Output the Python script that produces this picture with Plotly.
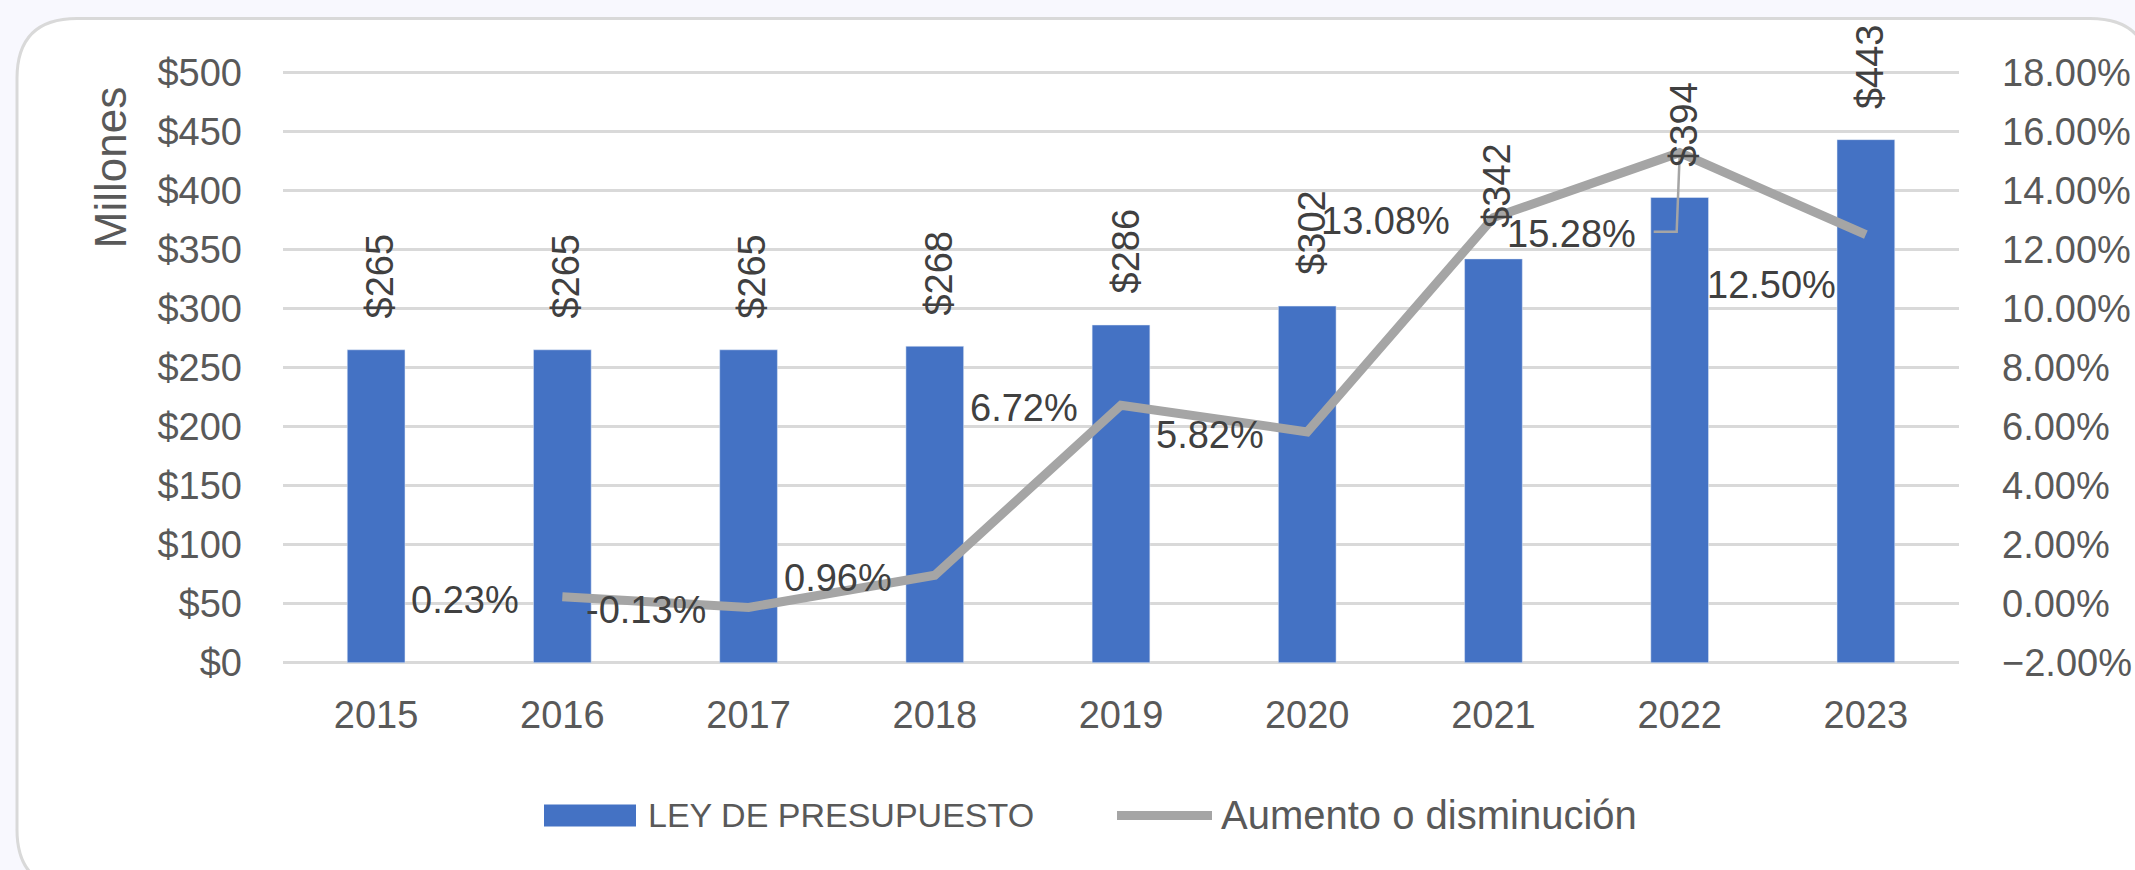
import plotly.graph_objects as go

# ---------------- data ----------------
years = ["2015", "2016", "2017", "2018", "2019", "2020", "2021", "2022", "2023"]
budget = [265, 265, 265, 268, 286, 302, 342, 394, 443]           # millones
change_pct = [None, 0.23, -0.13, 0.96, 6.72, 5.82, 13.08, 15.28, 12.50]  # %
bar_name = "LEY DE PRESUPUESTO"
line_name = "Aumento o disminución"
y_title = "Millones"

# ---------------- layout geometry (pixels) ----------------
W, H = 2135, 870
L, R, T, B = 283, 1959, 72, 663
EXT = 2.0  # small range padding so edge gridlines are drawn
PPU = (B - T) / 500.0
T_m = T - EXT * PPU
B_m = B + EXT * PPU


def px(x):
    return (x - L) / (R - L)


def py(y):
    return (B_m - y) / (B_m - T_m)


FONT = "Liberation Sans, Arial, sans-serif"
TICK_COLOR = "#595959"
LABEL_COLOR = "#404040"
BAR_COLOR = "#4472C4"
LINE_COLOR = "#A5A5A5"
GRID_COLOR = "#D9D9D9"

# label offsets (pixels) for the percentage labels: (xshift, yshift)
pct_offsets = {"2023": (-29, -50), "2022": (-43, -81)}
default_offset = (-42, -3)

fig = go.Figure()
fig.add_trace(go.Bar(
    x=years, y=budget, name=bar_name, marker_color=BAR_COLOR,
    width=0.31, showlegend=False, yaxis="y",
))
fig.add_trace(go.Scatter(
    x=years, y=change_pct, name=line_name, mode="lines",
    line=dict(color=LINE_COLOR, width=9), connectgaps=False,
    showlegend=False, yaxis="y2",
))

annotations = []
# bar value labels (rotated)
for i, v in enumerate(budget):
    annotations.append(dict(
        x=i, y=v, xref="x", yref="y", text=f"${v}", textangle=-90,
        showarrow=False, xanchor="center", yanchor="bottom", yshift=30, xshift=4,
        borderpad=0, font=dict(family=FONT, size=38, color=LABEL_COLOR),
    ))
# percentage labels
for i, p in enumerate(change_pct):
    if p is None:
        continue
    xs, ys = pct_offsets.get(years[i], default_offset)
    annotations.append(dict(
        x=i, y=p, xref="x", yref="y2", text=f"{p:.2f}%",
        showarrow=False, xanchor="right", yanchor="middle", xshift=xs, yshift=ys,
        borderpad=0, font=dict(family=FONT, size=38, color=LABEL_COLOR),
    ))
# y axis title
annotations.append(dict(
    x=px(110), y=py(168), xref="paper", yref="paper", text=y_title, textangle=-90,
    showarrow=False, xanchor="center", yanchor="middle",
    font=dict(family=FONT, size=44, color=TICK_COLOR),
))
# custom legend texts
annotations.append(dict(
    x=px(646), y=py(816), xref="paper", yref="paper", text=bar_name,
    showarrow=False, xanchor="left", yanchor="middle",
    font=dict(family=FONT, size=34, color=TICK_COLOR),
))
annotations.append(dict(
    x=px(1219), y=py(816), xref="paper", yref="paper", text=line_name,
    showarrow=False, xanchor="left", yanchor="middle",
    font=dict(family=FONT, size=40, color=TICK_COLOR),
))

# rounded white card
x0, x1, y0, y1, r = 17, 2150, 18, 890, 60
card = (
    f"M {px(x0 + r)},{py(y0)} L {px(x1 - r)},{py(y0)} "
    f"Q {px(x1)},{py(y0)} {px(x1)},{py(y0 + r)} "
    f"L {px(x1)},{py(y1 - r)} Q {px(x1)},{py(y1)} {px(x1 - r)},{py(y1)} "
    f"L {px(x0 + r)},{py(y1)} Q {px(x0)},{py(y1)} {px(x0)},{py(y1 - r)} "
    f"L {px(x0)},{py(y0 + r)} Q {px(x0)},{py(y0)} {px(x0 + r)},{py(y0)} Z"
)
i22 = years.index("2022")
shapes = [
    dict(type="path", path=card, xref="paper", yref="paper",
         fillcolor="white", line=dict(color=GRID_COLOR, width=3), layer="below"),
    # legend swatches
    dict(type="rect", xref="paper", yref="paper", x0=px(544), x1=px(636),
         y0=py(827), y1=py(805), fillcolor=BAR_COLOR, line=dict(width=0)),
    dict(type="line", xref="paper", yref="paper", x0=px(1117), x1=px(1212),
         y0=py(816), y1=py(816), line=dict(color=LINE_COLOR, width=9)),
    # leader line for the 2022 label
    dict(type="path", xref="x", yref="y2", xsizemode="pixel", ysizemode="pixel",
         xanchor=i22, yanchor=change_pct[i22],
         path="M -26,-79 L -3,-79 L 0,-2",
         line=dict(color=LINE_COLOR, width=2.5)),
]

y2span = 20.0 / 500.0
fig.update_layout(
    width=W, height=H,
    margin=dict(l=L, r=W - R, t=T_m, b=H - B_m, autoexpand=False),
    paper_bgcolor="#F8F8FE", plot_bgcolor="rgba(0,0,0,0)",
    font=dict(family=FONT, size=38, color=TICK_COLOR),
    annotations=annotations, shapes=shapes,
    xaxis=dict(
        type="category", range=[-0.5, len(years) - 0.5], autorange=False,
        showgrid=False, zeroline=False, showline=False, automargin=False,
        ticks="", tickfont=dict(family=FONT, size=38, color=TICK_COLOR),
        ticklabelstandoff=24,
    ),
    yaxis=dict(
        range=[-EXT, 500 + EXT], tick0=0, dtick=50, tickprefix="$", showgrid=True,
        gridcolor=GRID_COLOR, gridwidth=3, zeroline=False, showline=False,
        automargin=False,
        ticks="", tickfont=dict(family=FONT, size=38, color=TICK_COLOR),
        ticklabelstandoff=40,
    ),
    yaxis2=dict(
        range=[-2 - EXT * y2span, 18 + EXT * y2span], tick0=-2, dtick=2,
        tickformat=".2f", ticksuffix="%", automargin=False,
        overlaying="y", side="right", showgrid=False, zeroline=False,
        showline=False, ticks="",
        tickfont=dict(family=FONT, size=38, color=TICK_COLOR),
        ticklabelstandoff=42,
    ),
)

fig.write_html(
    "out.html",
    config={"displayModeBar": False},
    post_script="document.body.style.margin='0';document.body.style.overflow='hidden';",
)
